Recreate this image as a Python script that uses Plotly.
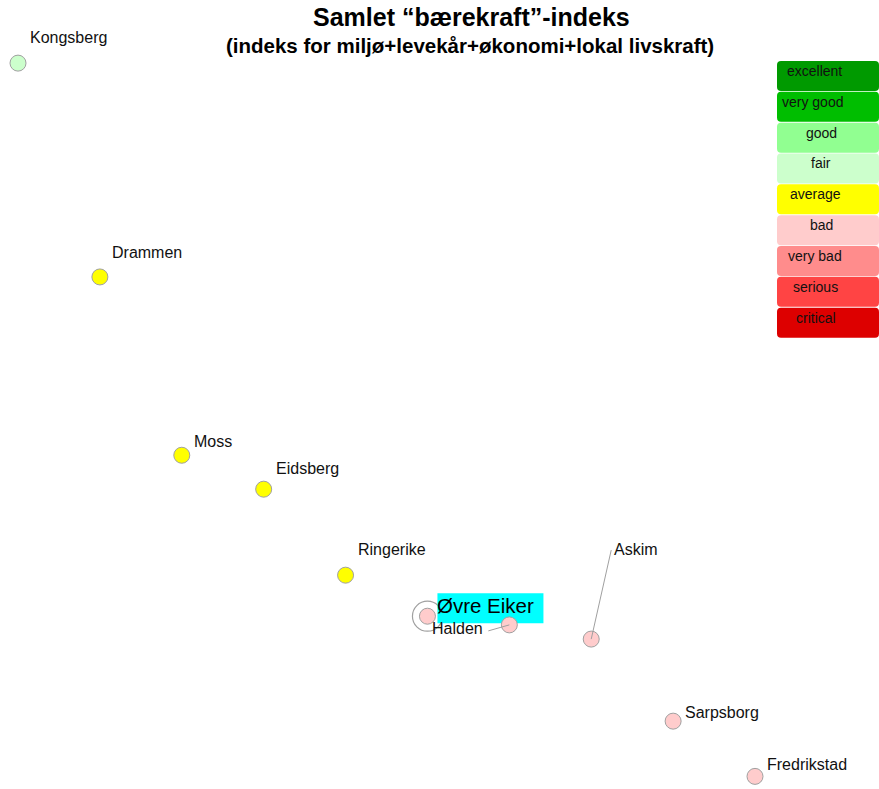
import plotly.graph_objects as go

# ---- data ----
municipalities = ["Kongsberg", "Drammen", "Moss", "Eidsberg", "Ringerike",
                  "Øvre Eiker", "Halden", "Askim", "Sarpsborg", "Fredrikstad"]
rank = [1, 2, 3, 4, 5, 6, 7, 8, 9, 10]
index_value = [92.0, 64.9, 42.3, 38.0, 27.1, 21.9, 20.8, 19.0, 8.6, 1.6]
rating = ["fair", "average", "average", "average", "average",
          "bad", "bad", "bad", "bad", "bad"]
highlight = "Øvre Eiker"

rating_levels = ["excellent", "very good", "good", "fair", "average",
                 "bad", "very bad", "serious", "critical"]
rating_colors = ["#009a00", "#00be00", "#91ff91", "#ccffcc", "#ffff00",
                 "#ffcccc", "#ff8c8c", "#ff4444", "#dd0000"]

title = "Samlet “bærekraft”-indeks"
subtitle = "(indeks for miljø+levekår+økonomi+lokal livskraft)"

# ---- style / layout settings ----
W, H = 879, 789
FONT = "Liberation Sans, Arial, sans-serif"
GRAY = "#a0a0a0"
LABEL_SIZE = 16
color_of = dict(zip(rating_levels, rating_colors))
# label offsets (pixels: dx right, dy up) for plain labels
label_offset = {"Kongsberg": (10, 26), "Drammen": (10, 24), "Moss": (10, 14),
                "Eidsberg": (10, 21), "Ringerike": (10, 26),
                "Sarpsborg": (10, 9), "Fredrikstad": (10, 12)}
# leader-line labels: (line dx, line dy, text xshift, text yshift, xanchor)
leader = {"Askim": (20, 89, 21, 90, "left"),
          "Halden": (-21, -6, -24, -4, "right")}
legend_text_left = [785, 780, 804, 809, 788, 808, 786, 791, 794]

fig = go.Figure()
fig.add_trace(go.Scatter(
    x=rank, y=index_value, mode="markers",
    marker=dict(size=16, color=[color_of[r] for r in rating],
                line=dict(color=GRAY, width=1)),
    text=municipalities, hoverinfo="text", showlegend=False))

shapes, annotations = [], []

for name, xv, yv in zip(municipalities, rank, index_value):
    if name in label_offset:
        dx, dy = label_offset[name]
        annotations.append(dict(x=xv, y=yv, xref="x", yref="y", text=name,
                                showarrow=False, xanchor="left", yanchor="middle",
                                xshift=dx, yshift=dy,
                                font=dict(family=FONT, size=LABEL_SIZE, color="#111")))
    elif name in leader:
        lx, ly, tx, ty, anc = leader[name]
        shapes.append(dict(type="line", xref="x", yref="y",
                           xsizemode="pixel", ysizemode="pixel",
                           xanchor=xv, yanchor=yv, x0=0, y0=0, x1=lx, y1=ly,
                           line=dict(color=GRAY, width=1), layer="above"))
        annotations.append(dict(x=xv, y=yv, xref="x", yref="y", text=name,
                                showarrow=False, xanchor=anc, yanchor="middle",
                                xshift=tx, yshift=ty,
                                font=dict(family=FONT, size=LABEL_SIZE, color="#111")))
    elif name == highlight:
        # ring around the highlighted municipality
        shapes.append(dict(type="circle", xref="x", yref="y",
                           xsizemode="pixel", ysizemode="pixel",
                           xanchor=xv, yanchor=yv, x0=-15, x1=15, y0=-15, y1=15,
                           line=dict(color=GRAY, width=1.2), layer="below"))
        # cyan label box
        shapes.append(dict(type="rect", xref="x", yref="y",
                           xsizemode="pixel", ysizemode="pixel",
                           xanchor=xv, yanchor=yv, x0=10, x1=116, y0=-7, y1=23,
                           fillcolor="#00ffff", line=dict(width=0), layer="below"))
        annotations.append(dict(x=xv, y=yv, xref="x", yref="y", text=name,
                                showarrow=False, xanchor="left", yanchor="middle",
                                xshift=8, yshift=11,
                                font=dict(family=FONT, size=20.5, color="#000")))

# legend boxes (rounded rectangles, pixel positions converted to paper)
def px(x):
    return x / W

def py(y):
    return 1 - y / H

box_left, box_right, box_top0, box_h, pitch, r = 777, 879, 61, 30, 30.83, 4
for i, (lvl, col) in enumerate(zip(rating_levels, rating_colors)):
    t = box_top0 + i * pitch
    b = t + box_h
    L, R = box_left, box_right
    path = (f"M {px(L + r)},{py(t)} L {px(R - r)},{py(t)} "
            f"Q {px(R)},{py(t)} {px(R)},{py(t + r)} L {px(R)},{py(b - r)} "
            f"Q {px(R)},{py(b)} {px(R - r)},{py(b)} L {px(L + r)},{py(b)} "
            f"Q {px(L)},{py(b)} {px(L)},{py(b - r)} L {px(L)},{py(t + r)} "
            f"Q {px(L)},{py(t)} {px(L + r)},{py(t)} Z")
    shapes.append(dict(type="path", xref="paper", yref="paper", path=path,
                       fillcolor=col, line=dict(width=0), layer="above"))
    annotations.append(dict(x=px(legend_text_left[i]), y=py(t + 10),
                            xref="paper", yref="paper", text=lvl,
                            showarrow=False, xanchor="left", yanchor="middle",
                            font=dict(family=FONT, size=14, color="#111")))

annotations.append(dict(x=px(471), y=py(17), xref="paper", yref="paper",
                        text=f"<b>{title}</b>", showarrow=False,
                        xanchor="center", yanchor="middle",
                        font=dict(family=FONT, size=25, color="#000")))
annotations.append(dict(x=px(470), y=py(45), xref="paper", yref="paper",
                        text=f"<b>{subtitle}</b>", showarrow=False,
                        xanchor="center", yanchor="middle",
                        font=dict(family=FONT, size=20.5, color="#000")))

spacing = (755 - 18) / 9
fig.update_layout(
    width=W, height=H, autosize=False,
    margin=dict(l=0, r=0, t=0, b=0),
    paper_bgcolor="white", plot_bgcolor="white",
    xaxis=dict(range=[1 - 18 / spacing, 1 + (W - 18) / spacing],
               visible=False, fixedrange=True),
    yaxis=dict(range=[0, 100], visible=False, fixedrange=True),
    shapes=shapes, annotations=annotations,
    font=dict(family=FONT),
)

fig.write_html("out.html", config={"displayModeBar": False},
               post_script="document.body.style.margin='0';"
                           "document.body.style.overflow='hidden';")
